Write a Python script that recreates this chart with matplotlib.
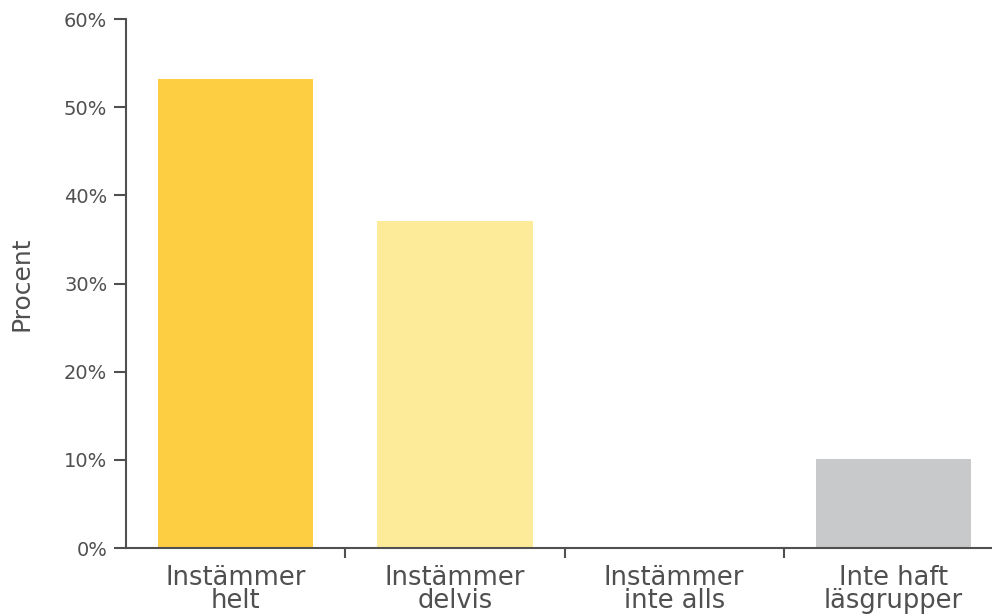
import matplotlib.pyplot as plt
from matplotlib.ticker import FixedLocator, PercentFormatter

# Svarsfördelning
kategorier = ['Instämmer\nhelt', 'Instämmer\ndelvis', 'Instämmer\ninte alls', 'Inte haft\nläsgrupper']
procent = [53.2, 37.1, 0, 10.1]
farger = ['#FDCE41', '#FEEB99', '#FEEB99', '#C8C9CB']

textfarg = '#505050'
plt.rcParams['font.family'] = ['DejaVu Sans']

fig = plt.figure(figsize=(9.92, 6.15), dpi=100)
ax = fig.add_axes([126 / 992, 67 / 615, 877 / 992, 529 / 615])

x = range(len(kategorier))
ax.bar(x, procent, width=0.71, color=farger)

ax.set_xlim(-0.5, 3.5)
ax.set_ylim(0, 60)
ax.set_yticks(range(0, 61, 10))
ax.yaxis.set_major_formatter(PercentFormatter(decimals=0))

ax.set_xticks(list(x))
ax.set_xticklabels(kategorier, fontsize=18.5, color=textfarg, linespacing=0.86)
ax.xaxis.set_minor_locator(FixedLocator([0.5, 1.5, 2.5]))
ax.tick_params(axis='x', which='major', length=0, pad=12)
ax.tick_params(axis='x', which='minor', length=7.5, width=1.5, color=textfarg)
ax.tick_params(axis='y', length=8.5, width=1.5, color=textfarg,
               labelsize=14, labelcolor=textfarg, pad=5)

ax.set_ylabel('Procent', fontsize=18, color=textfarg)
ax.yaxis.set_label_coords(-0.106, 0.5)

for side in ['top', 'right']:
    ax.spines[side].set_visible(False)
for side in ['left', 'bottom']:
    ax.spines[side].set_color(textfarg)
    ax.spines[side].set_linewidth(1.5)

fig.savefig('out.png', dpi=100)
